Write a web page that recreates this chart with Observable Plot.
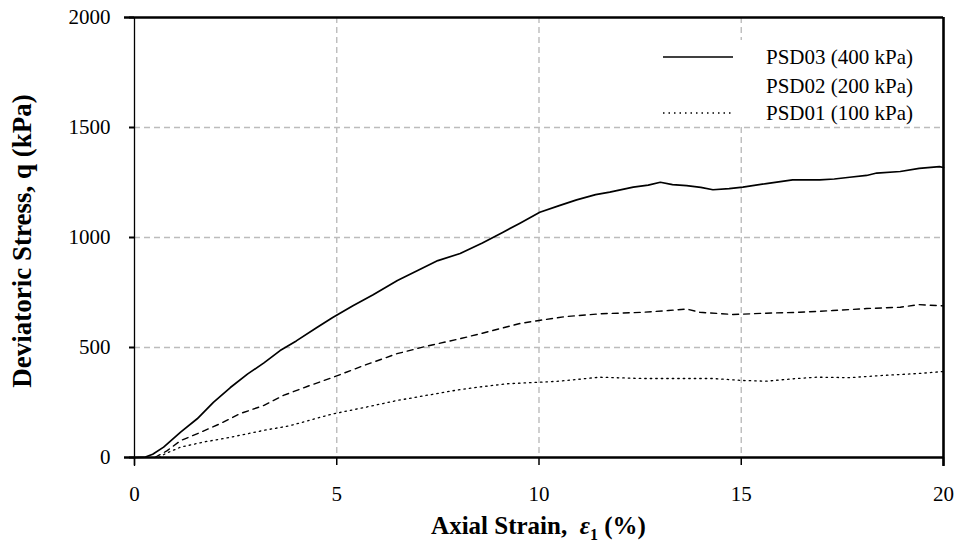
<!DOCTYPE html>
<html>
<head>
<meta charset="utf-8">
<script src="https://cdn.jsdelivr.net/npm/d3@7"></script>
<script src="https://cdn.jsdelivr.net/npm/@observablehq/plot@0.6"></script>
<style>
  html, body { margin: 0; padding: 0; background: #fff; }
  #wrap { position: relative; width: 962px; height: 554px; font-family: "Liberation Serif", "Times New Roman", serif; color: #000; }
  #wrap svg { position: absolute; left: 0; top: 0; }
  .xtitle { position: absolute; left: 134px; width: 809px; top: 511px; text-align: center; font-weight: bold; font-size: 25px; line-height: 30px; white-space: pre; }
  .ytitle { position: absolute; left: 22px; top: 241px; transform: translate(-50%, -50%) rotate(-90deg); font-weight: bold; font-size: 27px; white-space: nowrap; }
  .legend { position: absolute; left: 662px; top: 40px; width: 278px; height: 86px; background: #fff; }
  .legend .row { position: absolute; left: 0; height: 24px; }
  .legend .txt { position: absolute; left: 104px; top: 0; font-size: 21px; line-height: 24px; white-space: nowrap; }
  .legend svg { position: absolute; left: 30px; top: 0; }
</style>
</head>
<body>
<div id="wrap"></div>
<script>
// Series: [axial strain %, deviatoric stress kPa]
const psd03 = [
  [0,0],[0.27,2],[0.45,15],[0.72,47],[1.14,115],[1.55,176],[1.95,251],[2.37,318],[2.8,380],[3.2,430],[3.6,486],
  [4.0,530],[4.5,590],[4.9,636],[5.4,690],[5.9,740],[6.5,805],[7.0,850],[7.5,895],[8.05,927],[8.6,975],
  [9.1,1023],[9.53,1065],[10.02,1115],[10.5,1145],[10.93,1171],[11.4,1195],[11.75,1206],[12.33,1229],
  [12.7,1238],[13.0,1251],[13.3,1240],[13.65,1236],[14.0,1228],[14.3,1217],[14.7,1222],[15.04,1229],
  [15.62,1245],[16.27,1262],[16.94,1262],[17.3,1266],[17.68,1274],[18.1,1282],[18.35,1293],[18.93,1300],
  [19.4,1314],[19.9,1322],[20,1318]
];
const psd02 = [
  [0.5,0],[0.8,30],[1.14,77],[1.63,114],[2.12,154],[2.62,200],[3.19,236],[3.68,282],[4.3,325],[4.9,364],
  [5.7,420],[6.49,472],[7.2,505],[8.05,540],[8.6,565],[9.04,586],[9.53,609],[10.0,623],[10.68,641],
  [11.5,653],[12.57,660],[13.2,668],[13.65,675],[13.98,660],[14.8,650],[15.62,656],[16.44,660],
  [17.26,668],[18.1,677],[18.93,683],[19.4,695],[20,689]
];
const psd01 = [
  [0.6,0],[0.77,18],[1.14,47],[1.7,70],[2.37,92],[3.19,123],[3.85,145],[4.6,183],[4.9,198],[5.7,228],
  [6.49,259],[7.3,285],[8.05,309],[8.6,322],[9.2,335],[10.0,342],[10.5,347],[11.5,365],[12.57,359],
  [13.4,359],[14.3,359],[15.04,350],[15.62,347],[16.3,358],[16.86,365],[17.68,363],[18.5,373],
  [19.4,382],[20,391]
];
const xTicks = [0, 5, 10, 15, 20];
const yTicks = [0, 500, 1000, 1500, 2000];
const xGrid = [5, 10, 15];
const yGrid = [500, 1000, 1500];
const seriesNames = ["PSD03 (400 kPa)", "PSD02 (200 kPa)", "PSD01 (100 kPa)"];

const toRows = (arr, name) => arr.map(([x, y]) => ({x, y, name}));

const chart = Plot.plot({
  width: 962,
  height: 554,
  marginLeft: 134,
  marginRight: 19,
  marginTop: 17,
  marginBottom: 97,
  style: {fontFamily: "'Liberation Serif', 'Times New Roman', serif", fontSize: "21px", color: "#000", background: "transparent"},
  x: {domain: [0, 20]},
  y: {domain: [0, 2000]},
  marks: [
    Plot.ruleX(xGrid, {stroke: "#bcbcbc", strokeWidth: 1.4, strokeDasharray: "6,4"}),
    Plot.ruleY(yGrid, {stroke: "#bcbcbc", strokeWidth: 1.4, strokeDasharray: "6,4"}),
    Plot.line(toRows(psd01, seriesNames[2]), {x: "x", y: "y", stroke: "#000", strokeWidth: 1.3, strokeDasharray: "1.5,4"}),
    Plot.line(toRows(psd02, seriesNames[1]), {x: "x", y: "y", stroke: "#000", strokeWidth: 1.4, strokeDasharray: "6,5"}),
    Plot.line(toRows(psd03, seriesNames[0]), {x: "x", y: "y", stroke: "#000", strokeWidth: 1.7}),
    Plot.axisX({ticks: xTicks, tickSize: 8, tickPadding: 21, tickFormat: d => String(d), label: null, fontSize: 21, strokeWidth: 1.5}),
    Plot.axisY({ticks: yTicks, tickSize: 5, tickPadding: 19, tickFormat: d => String(d), label: null, fontSize: 21, strokeWidth: 2}),
    Plot.ruleX([0], {stroke: "#000", strokeWidth: 1.3, insetBottom: -9}),
    Plot.ruleX([20], {stroke: "#000", strokeWidth: 2.6, insetBottom: -9}),
    Plot.ruleY([0], {stroke: "#000", strokeWidth: 2.6, insetLeft: -10}),
    Plot.ruleY([2000], {stroke: "#000", strokeWidth: 2.6, insetLeft: -10})
  ]
});

const wrap = document.getElementById("wrap");
wrap.appendChild(chart);

// Axis titles
const xt = document.createElement("div");
xt.className = "xtitle";
xt.innerHTML = "Axial Strain,  <i>ε</i><sub style='font-size:16px'>1</sub> (%)";
wrap.appendChild(xt);
const yt = document.createElement("div");
yt.className = "ytitle";
yt.textContent = "Deviatoric Stress, q (kPa)";
wrap.appendChild(yt);

// Legend
const leg = document.createElement("div");
leg.className = "legend";
const styles = [
  {dash: null, color: "#000", w: 1.5},
  {dash: "6,5", color: "#ffffff", w: 1.2},
  {dash: "1.5,4", color: "#000", w: 1.3}
];
const rowTops = [5, 34, 61];
seriesNames.forEach((name, i) => {
  const row = document.createElement("div");
  row.className = "row";
  row.style.top = rowTops[i] + "px";
  row.style.width = "278px";
  const s = styles[i];
  row.innerHTML = `<svg width="72" height="24"><line x1="1" x2="71" y1="12" y2="12" stroke="${s.color}" stroke-width="${s.w}" ${s.dash ? `stroke-dasharray="${s.dash}"` : ""}/></svg><span class="txt">${name}</span>`;
  leg.appendChild(row);
});
wrap.appendChild(leg);
</script>
</body>
</html>
